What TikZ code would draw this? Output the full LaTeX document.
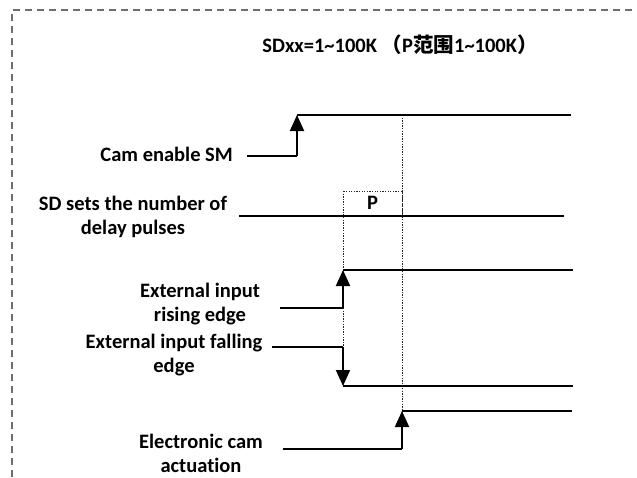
\documentclass[tikz,border=0pt]{standalone}
\usepackage{fontspec}
\setmainfont{Carlito}[Ligatures={NoCommon}]
\newfontfamily\cjk{Noto Sans CJK SC}
\usepackage{xcolor}
\usepackage{tikz}
\usetikzlibrary{arrows.meta, positioning}
\definecolor{framegray}{RGB}{110,110,110}

\begin{document}
\begin{tikzpicture}[x=1pt, y=-1pt,
    every node/.style={font=\fontsize{20.5}{24}\selectfont\bfseries, inner sep=0pt},
    lbl/.style={align=center},
    sig/.style={line width=2pt},
    edgearrow/.style={line width=2pt, -{Triangle[length=16pt, width=14pt]}},
    guide/.style={line width=1pt, black!85, dash pattern=on 1.3pt off 1.3pt}]
            \useasboundingbox (0,0) rectangle (637,477);
            \draw[framegray, line width=1.3pt, dash pattern=on 7pt off 5pt] (12,477) -- (12,10) -- (637,10);

            \node (title) at (400,45) {SDxx=1\textasciitilde100K {\cjk （}P{\cjk 范围}1\textasciitilde100K{\cjk ）}};

            \node[lbl, anchor=east] (enlbl) at (233,154) {Cam enable SM};
            \node[lbl] (sdlbl) at (133,216.5) {SD sets the number of\\delay pulses};
            \node[lbl] (riselbl) at (200,304) {External input\\rising edge};
            \node[lbl] (falllbl) at (174,355.5) {External input falling\\edge};
            \node[lbl] (camlbl) at (201,453.5) {Electronic cam\\actuation};

            % waveform points
            \coordinate (en0) at (247,156);  \coordinate (en1) at (297,156);
            \coordinate (en2) at (297,115);  \coordinate (en3) at (571,115);
            \coordinate (sd0) at (239,216);  \coordinate (sd1) at (564,216);
            \coordinate (ri0) at (280,308);  \coordinate (ri1) at (343,308);
            \coordinate (ri2) at (343,270);  \coordinate (ri3) at (573,270);
            \coordinate (fa0) at (272,347);  \coordinate (fa1) at (343,347);
            \coordinate (fa2) at (343,386);  \coordinate (fa3) at (573,386);
            \coordinate (ca0) at (283,449);  \coordinate (ca1) at (402,449);
            \coordinate (ca2) at (402,411);  \coordinate (ca3) at (572,411);

            % delay window
            \draw[guide] (343,191) rectangle (402,216);
            \node (p) at (372.5,203) {P};
            \draw[guide] (402,115) -- (ca2);
            \draw[guide] (343,191) -- (fa1);

            \draw[sig] (en0) -- (en1);
            \draw[edgearrow] (en1) -- (en2);
            \draw[sig] (en2) -- (en3);
            \draw[sig] (sd0) -- (sd1);
            \draw[sig] (ri0) -- (ri1);
            \draw[edgearrow] (ri1) -- (ri2);
            \draw[sig] (ri2) -- (ri3);
            \draw[sig] (fa0) -- (fa1);
            \draw[edgearrow] (fa1) -- (fa2);
            \draw[sig] (fa2) -- (fa3);
            \draw[sig] (ca0) -- (ca1);
            \draw[edgearrow] (ca1) -- (ca2);
            \draw[sig] (ca2) -- (ca3);
        \end{tikzpicture}
\end{document}
